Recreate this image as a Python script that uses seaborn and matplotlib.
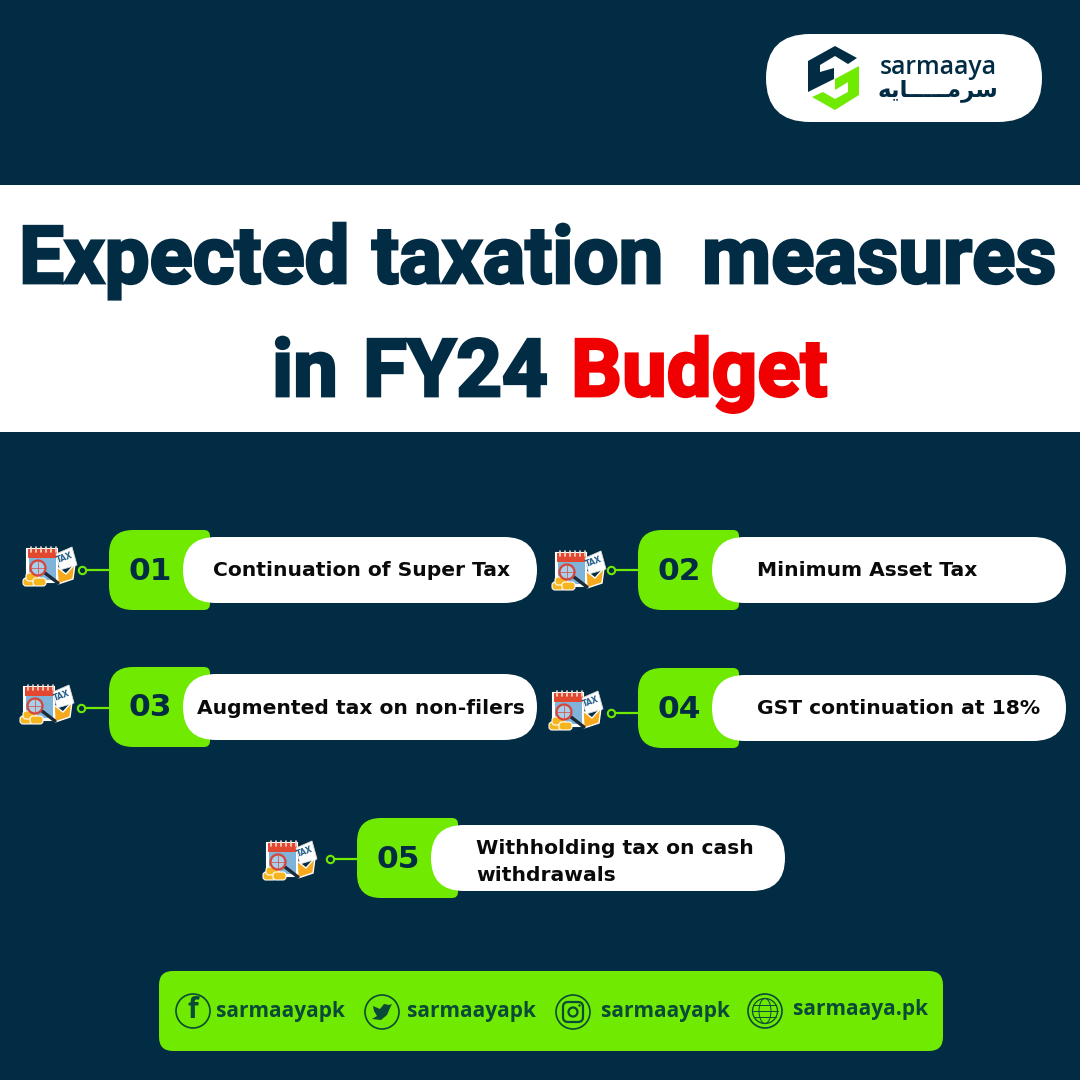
import matplotlib.pyplot as plt
import matplotlib.patheffects as pe
import seaborn as sns
import pandas as pd
from matplotlib.patches import Circle, Ellipse, FancyBboxPatch, PathPatch, Polygon, Rectangle
from matplotlib.path import Path

NAVY = '#022c43'
GREEN = '#6fea00'
RED = '#f00000'
FOOT_TEXT = '#0a4a38'

# content
title_top = ['Expected', 'taxation', 'measures']
title_bottom = ['in', 'FY24', 'Budget']
numbers = ['01', '02', '03', '04', '05']
measures = ['Continuation of Super Tax', 'Minimum Asset Tax', 'Augmented tax on non-filers',
            'GST continuation at 18%', 'Withholding tax on cash\nwithdrawals']
handles = ['sarmaayapk', 'sarmaayapk', 'sarmaayapk', 'sarmaaya.pk']

# layout, in pixels of the 1080 canvas
title_top_x = [19, 372, 702]
title_bottom_x = [272, 363, 571]
row_x = [109, 638, 109, 638, 357]
row_y = [570, 570, 707, 708, 858]
text_x = [213, 757, 197, 757, 476]
dot_x = [82, 611, 81, 611, 330]
dot_y = [570, 570, 708, 713, 859]
icon_x = [48, 577, 45, 574, 288]
icon_y = [567, 571, 705, 711, 861]
handle_x = [216, 407, 601, 793]
handle_y = [1012, 1011, 1011, 1009]
social_x = [193, 382, 573, 765]
social_y = [1011, 1012, 1012, 1011]

sns.set_theme(style='white')
plt.rcParams['font.family'] = ['DejaVu Sans']

fig = plt.figure(figsize=(10.8, 10.8), dpi=100, facecolor=NAVY)
ax = fig.add_axes([0, 0, 1, 1])
ax.set_xlim(0, 1080)
ax.set_ylim(1080, 0)
ax.axis('off')


def pill(x0, y0, x1, y1, color, r=None, z=2):
    r = (y1 - y0) / 2 if r is None else r
    ax.add_patch(FancyBboxPatch((x0 + r, y0 + r), x1 - x0 - 2 * r, y1 - y0 - 2 * r,
                                boxstyle=f'round,pad={r},rounding_size={r}',
                                fc=color, ec='none', zorder=z))


def tab(x0, y0, x1, y1, rl, rr, color):
    # green number tab, big corners on the left and small ones on the right
    verts = [(x0 + rl, y0), (x1 - rr, y0), (x1, y0), (x1, y0 + rr), (x1, y1 - rr), (x1, y1), (x1 - rr, y1),
             (x0 + rl, y1), (x0, y1), (x0, y1 - rl), (x0, y0 + rl), (x0, y0), (x0 + rl, y0)]
    codes = [Path.MOVETO, Path.LINETO, Path.CURVE3, Path.CURVE3, Path.LINETO, Path.CURVE3, Path.CURVE3,
             Path.LINETO, Path.CURVE3, Path.CURVE3, Path.LINETO, Path.CURVE3, Path.CURVE3]
    ax.add_patch(PathPatch(Path(verts, codes), fc=color, ec='none', zorder=3))


def tax_icon(cx, cy):
    z = 5
    # calendar
    ax.add_patch(Rectangle((cx - 21, cy - 18), 30, 33, fc='white', ec='white', lw=1.5, zorder=z))
    ax.add_patch(Rectangle((cx - 19, cy - 9), 27, 22, fc='#7fb3d9', ec='none', zorder=z))
    ax.add_patch(Rectangle((cx - 20, cy - 18), 29, 9, fc='#e2472f', ec='none', zorder=z))
    for i in range(6):
        ax.plot([cx - 17 + i * 5] * 2, [cy - 20, cy - 15], color='#f6d9c8', lw=1.2, zorder=z + 1)
    # envelope with tax note
    ax.add_patch(Polygon([[cx + 8, cy - 13], [cx + 24, cy - 20], [cx + 29, cy - 2], [cx + 12, cy + 3]],
                         fc='white', ec='#d9d9d9', lw=0.6, zorder=z + 1))
    ax.text(cx + 17, cy - 9, 'TAX', fontsize=5.5, fontweight='bold', color='#1f5c8a', rotation=20,
            ha='center', va='center', zorder=z + 2)
    ax.add_patch(Polygon([[cx + 9, cy + 0], [cx + 18, cy + 7], [cx + 27, cy - 3], [cx + 25, cy + 12], [cx + 10, cy + 17]],
                         fc='#f6a91c', ec='white', lw=1, zorder=z + 2))
    # coins
    for dx, dy in [(-23, 13), (-20, 8), (-13, 13)]:
        ax.add_patch(FancyBboxPatch((cx + dx, cy + dy), 9, 4, boxstyle='round,pad=2,rounding_size=3',
                                    fc='#f5b51e', ec='white', lw=0.8, zorder=z + 3))
    # magnifier
    ax.plot([cx - 3, cx + 10], [cy + 6, cy + 16], color='#1b2b38', lw=2.4, zorder=z + 4)
    ax.add_patch(Circle((cx - 10, cy + 1), 7.5, fc='#a9d0ea', ec='#d7453a', lw=1.6, zorder=z + 5))
    ax.plot([cx - 17, cx - 3], [cy + 1, cy + 1], color='#d7453a', lw=0.5, zorder=z + 6)
    ax.plot([cx - 10, cx - 10], [cy - 6, cy + 8], color='#d7453a', lw=0.5, zorder=z + 6)


# white title band
ax.add_patch(Rectangle((0, 185), 1080, 247, fc='white', ec='none', zorder=1))
heavy = [pe.withStroke(linewidth=2.0, foreground=NAVY, joinstyle='miter')]
heavy_red = [pe.withStroke(linewidth=2.0, foreground=RED, joinstyle='miter')]
for word, x in zip(title_top, title_top_x):
    ax.text(x, 283, word, fontsize=57.5, fontweight='bold', family=['Roboto'],
            color=NAVY, ha='left', va='baseline', zorder=4, path_effects=heavy)
for word, x in zip(title_bottom, title_bottom_x):
    is_red = word == 'Budget'
    ax.text(x, 396, word, fontsize=57.5, fontweight='bold', family=['Roboto'],
            color=RED if is_red else NAVY, ha='left', va='baseline', zorder=4,
            path_effects=heavy_red if is_red else heavy)

# logo
pill(766, 34, 1042, 122, 'white')
ax.add_patch(Polygon([[808, 61], [835, 46], [857, 58], [848, 64], [835, 56], [820, 65], [820, 72],
                      [834, 68], [834, 79], [808, 92]], fc=NAVY, ec='none', zorder=3))
ax.add_patch(Polygon([[859, 66], [859, 95], [835, 110], [812, 97], [823, 92], [835, 99], [848, 92],
                      [848, 82], [835, 90], [835, 79]], fc=GREEN, ec='none', zorder=3))
ax.text(880, 68, 'sarmaaya', fontsize=17.8, fontweight='semibold', family=['Open Sans'], color=NAVY,
        ha='left', va='center', zorder=4)
ax.text(998, 90, '\ufeea\ufbfe\ufe8e\u0640\u0640\u0640\u0640\u0640\ufee3\ufeae\ufeb3', fontsize=16.5,
        fontweight='bold', color=NAVY, ha='right', va='center', zorder=4)

# connectors
dots = pd.DataFrame({'x': dot_x, 'y': dot_y})
for x, y, start in zip(dot_x, dot_y, row_x):
    ax.plot([x, start], [y, y], color=GREEN, lw=1.6, zorder=2)
sns.scatterplot(data=dots, x='x', y='y', ax=ax, s=28, facecolor=NAVY, edgecolor=GREEN, linewidth=1.5,
                zorder=3, legend=False)
ax.set_xlim(0, 1080)
ax.set_ylim(1080, 0)
ax.axis('off')

# measures
for i, (num, label) in enumerate(zip(numbers, measures)):
    x, y = row_x[i], row_y[i]
    tab(x, y - 40, x + 101, y + 40, 24, 6, GREEN)
    pill(x + 74, y - 33, x + 428, y + 33, 'white', z=4)
    ax.text(x + 41, y + 1, num, fontsize=22.5, fontweight='bold', color=NAVY, ha='center', va='center', zorder=5)
    ax.text(text_x[i], y + (4 if '\n' in label else 1), label, fontsize=14.6, fontweight='bold', color='#0a0a0a',
            ha='left', va='center', linespacing=1.49, zorder=5)
    tax_icon(icon_x[i], icon_y[i])

# footer
pill(159, 971, 943, 1051, GREEN, r=14)
for word, x, y in zip(handles, handle_x, handle_y):
    ax.text(x, y, word, fontsize=15, fontweight='bold', family=['Open Sans'], color=FOOT_TEXT,
            ha='left', va='center', zorder=4)
for x, y in zip(social_x, social_y):
    ax.add_patch(Circle((x, y), 17, fc='none', ec=FOOT_TEXT, lw=1.2, zorder=4))

# facebook
ax.text(social_x[0], social_y[0], 'f', fontsize=20, fontweight='bold', family=['Open Sans'], color=FOOT_TEXT,
        ha='center', va='center', zorder=5)
# twitter
tx, ty = social_x[1], social_y[1]
ax.add_patch(Polygon([[tx - 9, ty - 6], [tx - 2, ty - 3], [tx + 2, ty - 8], [tx + 7, ty - 7], [tx + 10, ty - 8],
                      [tx + 8, ty - 4], [tx + 5, ty + 3], [tx - 1, ty + 8], [tx - 10, ty + 7], [tx - 5, ty + 4],
                      [tx - 8, ty - 1]], fc=FOOT_TEXT, ec='none', zorder=5))
# instagram
ix, iy = social_x[2], social_y[2]
ax.add_patch(FancyBboxPatch((ix - 7, iy - 7), 14, 14, boxstyle='round,pad=3,rounding_size=5',
                            fc='none', ec=FOOT_TEXT, lw=1.6, zorder=5))
ax.add_patch(Circle((ix, iy), 4.5, fc='none', ec=FOOT_TEXT, lw=1.6, zorder=5))
ax.add_patch(Circle((ix + 6.5, iy - 6.5), 1.2, fc=FOOT_TEXT, ec='none', zorder=5))
# globe
gx, gy = social_x[3], social_y[3]
ax.add_patch(Circle((gx, gy), 12.5, fc='none', ec=FOOT_TEXT, lw=0.9, zorder=5))
ax.add_patch(Ellipse((gx, gy), 12, 25, fc='none', ec=FOOT_TEXT, lw=0.7, zorder=5))
for dy in (-6, 0, 6):
    half = 11 if dy else 12.5
    ax.plot([gx - half, gx + half], [gy + dy, gy + dy], color=FOOT_TEXT, lw=0.7, zorder=5)

fig.savefig('out.png', dpi=100, facecolor=NAVY)
